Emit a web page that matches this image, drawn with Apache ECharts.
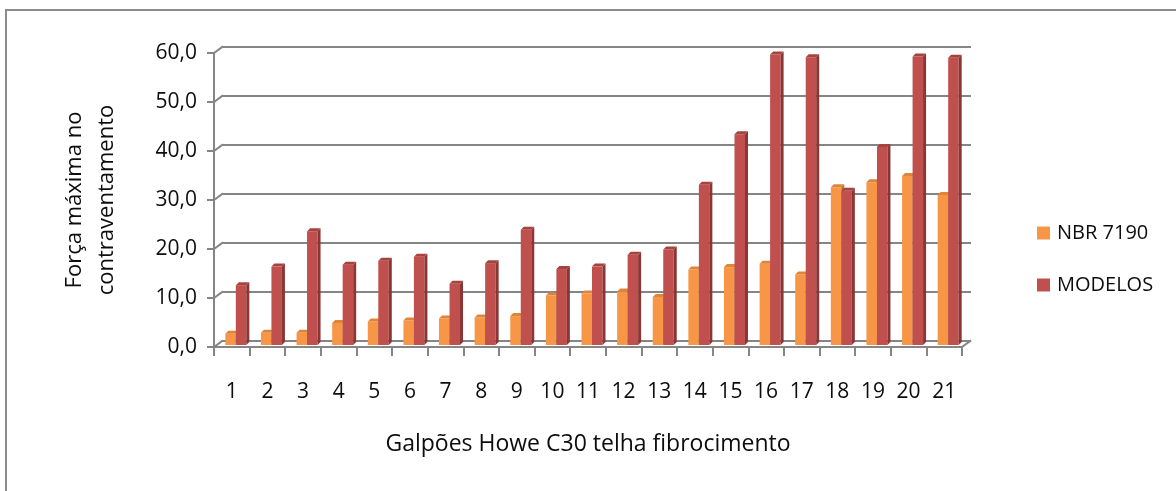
<!DOCTYPE html>
<html>
<head>
<meta charset="utf-8">
<script src="https://cdn.jsdelivr.net/npm/echarts@6/dist/echarts.min.js"></script>
<style>
html,body{margin:0;padding:0;background:#fff;}
#chart{width:1176px;height:491px;}
</style>
</head>
<body>
<div id="chart"></div>
<script>
// ---- data ----
var categories = ['1','2','3','4','5','6','7','8','9','10','11','12','13','14','15','16','17','18','19','20','21'];
var nbr7190 = [2.3, 2.5, 2.5, 4.5, 4.8, 5.0, 5.4, 5.6, 5.9, 10.1, 10.5, 10.9, 9.8, 15.4, 15.9, 16.6, 14.4, 32.2, 33.2, 34.5, 30.6];
var modelos = [12.2, 16.0, 23.2, 16.4, 17.2, 18.0, 12.5, 16.7, 23.5, 15.5, 16.0, 18.4, 19.5, 32.7, 43.0, 59.3, 58.7, 31.5, 40.4, 58.9, 58.6];
var yTicks = [0, 10, 20, 30, 40, 50, 60];
var seriesNames = ['NBR 7190', 'MODELOS'];
var yTitle = 'Força máxima no\ncontraventamento';
var xTitle = 'Galpões Howe C30 telha fibrocimento';

var FONT = '"Open Sans", "Noto Sans", sans-serif';
var TEXT = '#0d0d0d';
var AXIS_GRAY = '#858585';
var BAR_W = 10.5, DEPTH = 3;
var BACK_DX = 9, BACK_DY = -6.6;

function makeBar(side, front, sideC, topC) {
  return function (params, api) {
    var i = api.value(0), v = api.value(1);
    var t = api.coord([i, v]);
    var b = api.coord([i, 0]);
    var c = t[0];
    var x0 = side === 0 ? c - BAR_W : c;
    var x1 = x0 + BAR_W;
    var yt = t[1], yb = b[1];
    return {
      type: 'group',
      children: [
        {type: 'polygon', shape: {points: [[x0, yb], [x1, yb], [x1, yt], [x0, yt]]}, style: {fill: front}},
        {type: 'polygon', shape: {points: [[x1, yb], [x1 + DEPTH, yb - DEPTH], [x1 + DEPTH, yt - DEPTH], [x1, yt]]}, style: {fill: sideC}},
        {type: 'polygon', shape: {points: [[x0, yt], [x1, yt], [x1 + DEPTH, yt - DEPTH], [x0 + DEPTH, yt - DEPTH]]}, style: {fill: topC}}
      ]
    };
  };
}

var chart = echarts.init(document.getElementById('chart'), null, {renderer: 'canvas'});

var option = {
  backgroundColor: '#ffffff',
  animation: false,
  graphic: [{
    type: 'rect', z: -10, silent: true,
    shape: {x: 6, y: 10, width: 1200, height: 520},
    style: {fill: 'none', stroke: '#8c8c8c', lineWidth: 2}
  }],
  legend: {
    orient: 'vertical',
    left: 1037, top: 223, padding: 0,
    itemWidth: 13, itemHeight: 13, itemGap: 32,
    icon: 'rect',
    data: seriesNames,
    textStyle: {fontFamily: FONT, fontSize: 20, color: TEXT, padding: [0, 0, 0, 2]}
  },
  grid: [
    {left: 214, right: 214, top: 53, bottom: 144, containLabel: false},   // front axes
    {left: 223, right: 205, top: 46.4, bottom: 150.6, containLabel: false}, // back wall
    {left: 218, right: 210, top: 51, bottom: 146, containLabel: false}    // bars
  ],
  xAxis: [
    {
      gridIndex: 0, type: 'category', data: categories,
      axisLine: {show: true, lineStyle: {color: AXIS_GRAY, width: 2}},
      axisTick: {show: true, length: 9, lineStyle: {color: AXIS_GRAY, width: 2}},
      axisLabel: {fontFamily: FONT, fontSize: 21, color: TEXT, margin: 35, lineHeight: 21},
      name: xTitle, nameLocation: 'middle', nameGap: 86,
      nameTextStyle: {fontFamily: FONT, fontSize: 23, color: TEXT}
    },
    {gridIndex: 1, type: 'category', data: categories, show: false},
    {gridIndex: 2, type: 'category', data: categories, show: false}
  ],
  yAxis: [
    {
      gridIndex: 0, type: 'value', min: 0, max: 60, interval: 10,
      axisLine: {show: true, lineStyle: {color: AXIS_GRAY, width: 2}},
      axisTick: {show: true, length: 7, lineStyle: {color: AXIS_GRAY, width: 2}},
      splitLine: {show: false},
      axisLabel: {
        fontFamily: FONT, fontSize: 21, color: TEXT, margin: 17, padding: [8, 0, 0, 0],
        formatter: function (v) { return v.toFixed(1).replace('.', ','); }
      },
      name: yTitle, nameLocation: 'middle', nameRotate: 90, nameGap: 91,
      nameTextStyle: {fontFamily: FONT, fontSize: 22, color: TEXT, lineHeight: 32, align: 'center'}
    },
    {
      gridIndex: 1, type: 'value', min: 0, max: 60, interval: 10,
      axisLine: {show: false}, axisTick: {show: false}, axisLabel: {show: false},
      splitLine: {show: true, lineStyle: {color: AXIS_GRAY, width: 2}}
    },
    {gridIndex: 2, type: 'value', min: 0, max: 60, interval: 10, show: false, splitLine: {show: false}}
  ],
  series: [
    {
      name: 'tickConnectors', type: 'custom', xAxisIndex: 0, yAxisIndex: 0, silent: true, z: 1,
      data: yTicks.map(function (v) { return [0, v]; }),
      renderItem: function (params, api) {
        var p = api.coord([0, api.value(1)]);
        var bw = api.size([1, 0])[0];
        var x = p[0] - bw / 2;
        return {type: 'line', shape: {x1: x, y1: p[1], x2: x + BACK_DX, y2: p[1] + BACK_DY},
                style: {stroke: AXIS_GRAY, lineWidth: 2}};
      }
    },
    {
      name: 'floorEdge', type: 'custom', xAxisIndex: 0, yAxisIndex: 0, silent: true, z: 1,
      data: [[categories.length - 1, 0]],
      renderItem: function (params, api) {
        var p = api.coord([api.value(0), 0]);
        var bw = api.size([1, 0])[0];
        var x = p[0] + bw / 2;
        return {type: 'line', shape: {x1: x, y1: p[1], x2: x + BACK_DX, y2: p[1] + BACK_DY},
                style: {stroke: AXIS_GRAY, lineWidth: 2}};
      }
    },
    {
      name: seriesNames[0], type: 'custom', xAxisIndex: 2, yAxisIndex: 2, z: 3,
      itemStyle: {color: '#F79646'},
      data: nbr7190.map(function (v, i) { return [i, v]; }),
      renderItem: makeBar(0, '#F79646', '#B96F2F', '#DE8539')
    },
    {
      name: seriesNames[1], type: 'custom', xAxisIndex: 2, yAxisIndex: 2, z: 4,
      itemStyle: {color: '#C0504D'},
      data: modelos.map(function (v, i) { return [i, v]; }),
      renderItem: makeBar(1, '#C0504D', '#8A3634', '#A8423F')
    }
  ]
};
chart.setOption(option);
</script>
</body>
</html>
